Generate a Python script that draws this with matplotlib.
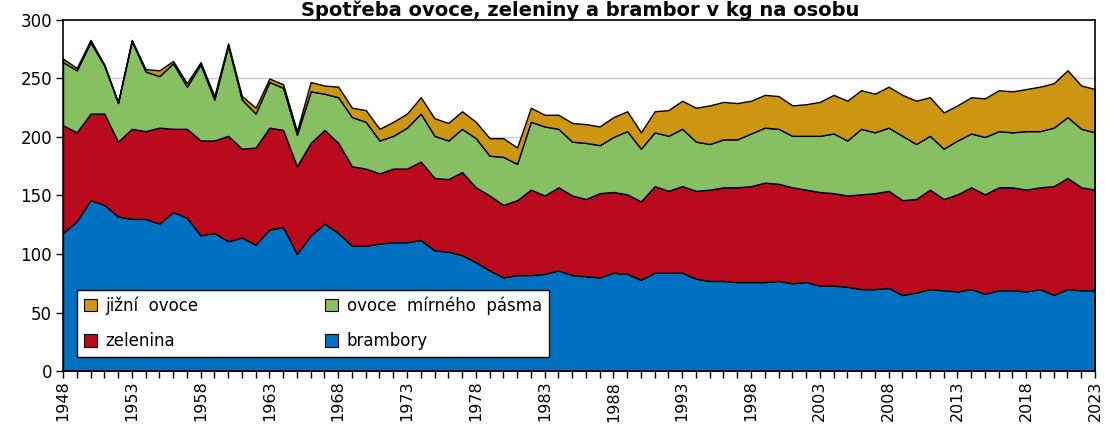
import numpy as np
import matplotlib
matplotlib.use('Agg')
import matplotlib.pyplot as plt

years = list(range(1948, 2024))

# cumulative tops (kg per person)
brambory = [118, 128, 146, 142, 132, 130, 130, 126, 136, 131,
            116, 118, 111, 114, 108, 121, 123, 100, 116, 126,
            118, 107, 107, 109, 110, 110, 112, 103, 102, 99,
            93, 86, 80, 82, 82, 83, 86, 82, 81, 80,
            84, 83, 78, 84, 84, 84, 79, 77, 77, 76,
            76, 76, 77, 75, 76, 73, 73, 72, 70, 70,
            71, 65, 67, 70, 69, 68, 70, 66, 69, 69,
            68, 70, 65, 70, 69, 69]
zelenina_top = [210, 204, 220, 220, 196, 207, 205, 208, 207, 207,
                197, 197, 201, 190, 191, 208, 206, 175, 195, 206,
                195, 175, 173, 169, 173, 173, 179, 165, 164, 170,
                157, 150, 142, 146, 155, 150, 157, 150, 147, 152,
                153, 151, 145, 158, 154, 158, 154, 155, 157, 157,
                158, 161, 160, 157, 155, 153, 152, 150, 151, 152,
                154, 146, 147, 155, 147, 151, 157, 151, 157, 157,
                155, 157, 158, 165, 157, 155]
ovoce_top = [264, 257, 281, 261, 229, 282, 256, 252, 263, 243,
             262, 232, 278, 232, 220, 247, 242, 202, 239, 237,
             234, 217, 213, 197, 201, 208, 220, 201, 197, 207,
             199, 184, 183, 177, 213, 209, 207, 196, 195, 193,
             200, 205, 190, 204, 201, 207, 196, 194, 198, 198,
             203, 208, 207, 201, 201, 201, 203, 197, 207, 204,
             208, 201, 194, 201, 190, 197, 203, 200, 205, 204,
             205, 205, 208, 217, 207, 204]
jizni_top = [267, 259, 283, 262, 230, 283, 258, 257, 265, 246,
             264, 235, 280, 235, 225, 250, 245, 205, 247, 244,
             243, 225, 223, 207, 213, 220, 234, 216, 212, 222,
             213, 199, 199, 191, 225, 219, 219, 212, 211, 209,
             217, 222, 204, 222, 223, 231, 225, 227, 230, 229,
             231, 236, 235, 227, 228, 230, 236, 231, 240, 237,
             243, 236, 231, 234, 221, 227, 234, 233, 240, 239,
             241, 243, 246, 257, 244, 241]

zelenina = np.array(zelenina_top) - np.array(brambory)
ovoce = np.array(ovoce_top) - np.array(zelenina_top)
jizni = np.array(jizni_top) - np.array(ovoce_top)

colors = ['#0070C0', '#BA0A1E', '#86C062', '#CC9612']
labels = ['brambory', 'zelenina', 'ovoce  mírného  pásma', 'jižní  ovoce']

fig = plt.figure(figsize=(11.05, 4.25), dpi=100)
ax = fig.add_axes([63/1105, 1-371/425, (1095-63)/1105, (371-20)/425])

polys = ax.stackplot(years, brambory, zelenina, ovoce, jizni,
                     colors=colors, labels=labels,
                     edgecolor='black', linewidth=1.0, zorder=2)

ax.set_xlim(1948, 2023)
ax.set_ylim(0, 300)
ax.set_yticks(range(0, 301, 50))
ax.yaxis.grid(True, color='#c8c8c8', linewidth=1.0, zorder=0)
ax.set_axisbelow(True)
ax.set_xticks(range(1948, 2024, 5))
ax.set_xticks(years, minor=True)
ax.tick_params(axis='x', which='both', direction='out', length=5, width=1,
               labelrotation=90, labelsize=11.5, pad=2)
ax.tick_params(axis='y', direction='out', length=5, width=1, labelsize=12, pad=3)
for s in ax.spines.values():
    s.set_linewidth(1.2)
    s.set_color('black')

fig.text(580/1105, 1-0.2/425, 'Spotřeba ovoce, zeleniny a brambor v kg na osobu',
         ha='center', va='top', fontsize=14, fontweight='bold')

h = polys
leg = ax.legend([h[3], h[1], h[2], h[0]],
                [labels[3], labels[1], labels[2], labels[0]],
                ncol=2, loc='lower left', bbox_to_anchor=(14/1032, 14/351),
                borderaxespad=0,
                fontsize=12, frameon=True, fancybox=False, framealpha=1,
                edgecolor='black', handlelength=0.8, handleheight=0.8,
                columnspacing=7.6, handletextpad=0.5, labelspacing=1.05,
                borderpad=0.4)
leg.get_frame().set_linewidth(1.0)
for p in leg.legend_handles:
    p.set_linewidth(0.8)

fig.savefig('out.png', dpi=100)
